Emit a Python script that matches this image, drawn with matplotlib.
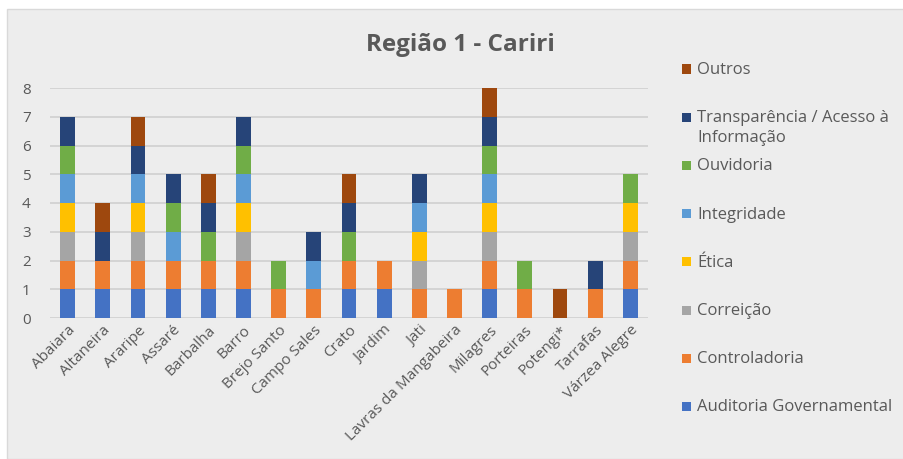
import numpy as np
import matplotlib.pyplot as plt
from matplotlib.patches import Rectangle

plt.rcParams['font.family'] = ['Open Sans', 'DejaVu Sans']

# categories
cidades = ['Abaiara', 'Altaneira', 'Araripe', 'Assaré', 'Barbalha', 'Barro',
           'Brejo Santo', 'Campo Sales', 'Crato', 'Jardim', 'Jati',
           'Lavras da Mangabeira', 'Milagres', 'Porteiras', 'Potengi*',
           'Tarrafas', 'Várzea Alegre']

# series values (bottom to top of each stack)
auditoria     = [1, 1, 1, 1, 1, 1, 0, 0, 1, 1, 0, 0, 1, 0, 0, 0, 1]
controladoria = [1, 1, 1, 1, 1, 1, 1, 1, 1, 1, 1, 1, 1, 1, 0, 1, 1]
correicao     = [1, 0, 1, 0, 0, 1, 0, 0, 0, 0, 1, 0, 1, 0, 0, 0, 1]
etica         = [1, 0, 1, 0, 0, 1, 0, 0, 0, 0, 1, 0, 1, 0, 0, 0, 1]
integridade   = [1, 0, 1, 1, 0, 1, 0, 1, 0, 0, 1, 0, 1, 0, 0, 0, 0]
ouvidoria     = [1, 0, 0, 1, 1, 1, 1, 0, 1, 0, 0, 0, 1, 1, 0, 0, 1]
transparencia = [1, 1, 1, 1, 1, 1, 0, 1, 1, 0, 1, 0, 1, 0, 0, 1, 0]
outros        = [0, 1, 1, 0, 1, 0, 0, 0, 1, 0, 0, 0, 1, 0, 1, 0, 0]

series = [
    ('Auditoria Governamental', auditoria, '#4472C4'),
    ('Controladoria', controladoria, '#ED7D31'),
    ('Correição', correicao, '#A5A5A5'),
    ('Ética', etica, '#FFC000'),
    ('Integridade', integridade, '#5B9BD5'),
    ('Ouvidoria', ouvidoria, '#70AD47'),
    ('Transparência / Acesso à\nInformação', transparencia, '#264478'),
    ('Outros', outros, '#9E480E'),
]

bg = '#EDEDED'
txt = '#595959'

fig = plt.figure(figsize=(9.04, 4.59), dpi=100, facecolor='white')
# chart frame
fig.patches.append(Rectangle((7 / 904, 0), 1 - 7 / 904, 1 - 9 / 459,
                             transform=fig.transFigure, facecolor=bg,
                             edgecolor='#D9D9D9', linewidth=1.0, zorder=-10))

ax = fig.add_axes([50 / 904, 1 - 318 / 459, 598 / 904, 230 / 459])
ax.set_facecolor(bg)

x = np.arange(len(cidades))
bottom = np.zeros(len(cidades))
for name, vals, color in series:
    ax.bar(x, vals, 0.42, bottom=bottom, color=color, label=name, zorder=3)
    bottom += np.array(vals)

ax.set_xlim(-0.5, len(cidades) - 0.5)
ax.set_ylim(0, 8)
ax.set_yticks(range(0, 9))
ax.grid(axis='y', color='#D0D0D0', linewidth=1.2, zorder=0)
for s in ax.spines.values():
    s.set_visible(False)
ax.tick_params(length=0, colors=txt, labelsize=11)
ax.tick_params(axis='y', pad=14)
ax.set_xticks(x)
ax.set_xticklabels(cidades, rotation=45, ha='right', rotation_mode='anchor',
                   fontsize=11, color=txt)

fig.text(460 / 904, 1 - 45 / 459, 'Região 1 - Cariri', ha='center',
         va='center', fontsize=17.5, fontweight='bold', color=txt)

# legend, top entry first
for k, (name, vals, color) in enumerate(reversed(series)):
    yc = 69 + 48.2 * k
    fig.patches.append(Rectangle((682 / 904, 1 - (yc + 4.5) / 459),
                                 9 / 904, 9 / 459, transform=fig.transFigure,
                                 facecolor=color, edgecolor='none'))
    fig.text(697 / 904, 1 - (yc - 7) / 459, name, ha='left', va='top',
             fontsize=12, color=txt, linespacing=1.3)

fig.savefig('out.png', dpi=100, facecolor=fig.get_facecolor())
